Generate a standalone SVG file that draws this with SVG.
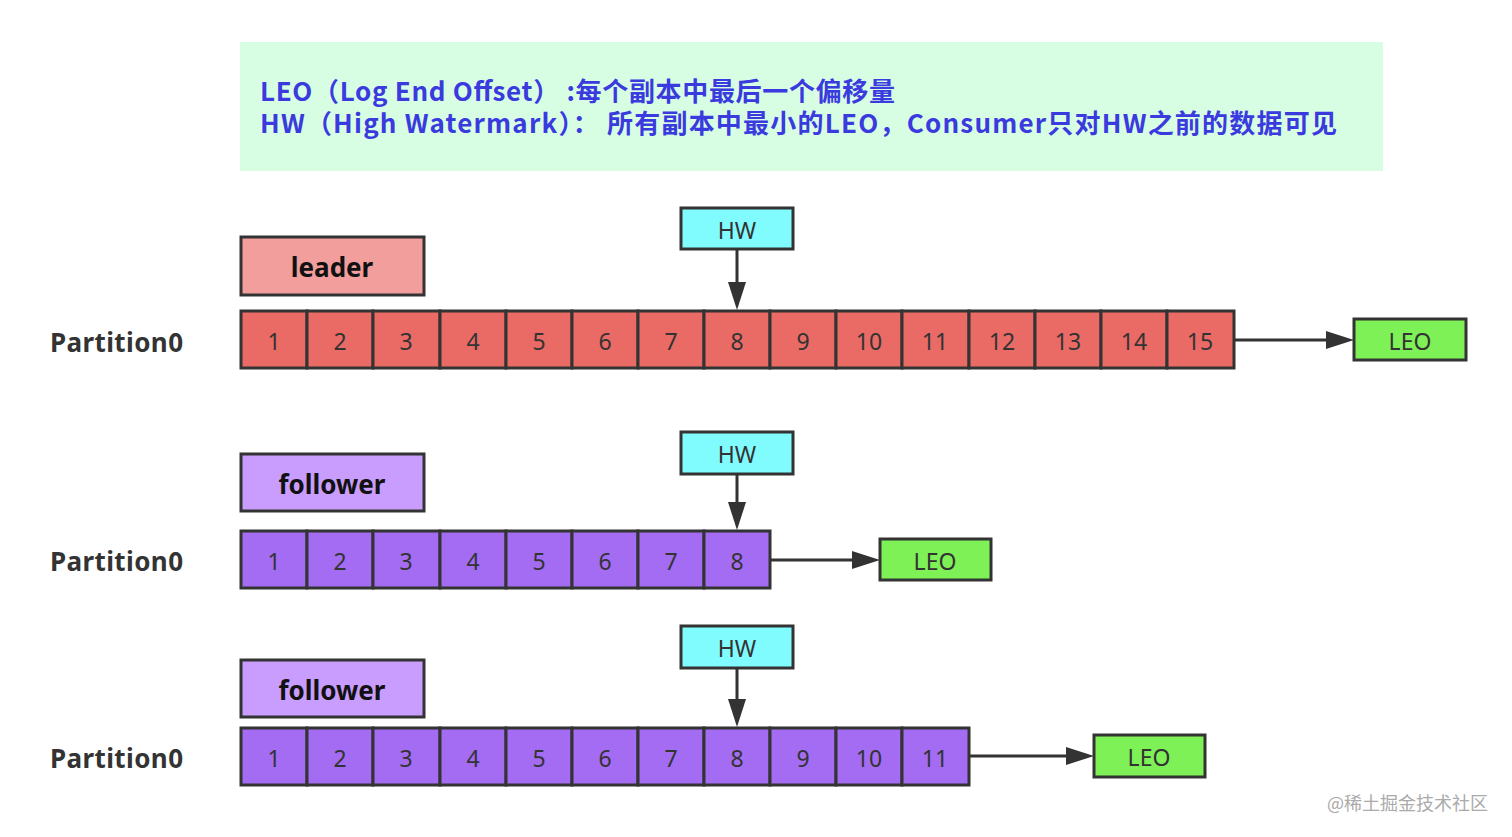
<svg xmlns="http://www.w3.org/2000/svg" width="1512" height="837" viewBox="0 0 1512 837">
<style>
.bd{stroke:#333;stroke-width:3}
.cl{fill:#ea6b66}
.cp{fill:#a36cf3}
.num{font-family:"Noto Sans","Open Sans",sans-serif;font-size:23px;fill:#333;text-anchor:middle;dominant-baseline:central}
.lbl{font-family:"Noto Sans","Open Sans",sans-serif;font-size:26px;font-weight:bold;fill:#111;text-anchor:middle;dominant-baseline:central}
.part{font-family:"Noto Sans","Open Sans",sans-serif;font-size:26px;font-weight:bold;fill:#333;dominant-baseline:central}
.hw{fill:#80fcff}
.leo{fill:#7ef157}
.ln{stroke:#333;stroke-width:3;fill:none}
.hdr{font-family:"Noto Sans CJK SC","Noto Sans",sans-serif;font-size:26px;font-weight:bold;fill:#3a3adf}
</style>
<rect width="1512" height="837" fill="#fff"/>
<g id="header">
<rect x="240" y="42" width="1143" height="129" fill="#d7fde3"/>
<text class="hdr" x="260" y="101" textLength="635" lengthAdjust="spacing">LEO（Log End Offset） :每个副本中最后一个偏移量</text>
<text class="hdr" x="260" y="133" textLength="1077" lengthAdjust="spacing">HW（High Watermark）： 所有副本中最小的LEO，Consumer只对HW之前的数据可见</text>
</g>
<g id="leader-label"><rect class="bd" x="241" y="237" width="183" height="58" fill="#f19e9c"/><text class="lbl" x="332" y="267">leader</text></g>
<g id="part1-label"><text class="part" x="50" y="342" textLength="133" lengthAdjust="spacing">Partition0</text></g>
<g id="leader-row">
<rect class="bd cl" x="241" y="311" width="66" height="57"/><text class="num" x="274" y="341">1</text>
<rect class="bd cl" x="307" y="311" width="66" height="57"/><text class="num" x="340" y="341">2</text>
<rect class="bd cl" x="373" y="311" width="67" height="57"/><text class="num" x="406" y="341">3</text>
<rect class="bd cl" x="440" y="311" width="66" height="57"/><text class="num" x="473" y="341">4</text>
<rect class="bd cl" x="506" y="311" width="66" height="57"/><text class="num" x="539" y="341">5</text>
<rect class="bd cl" x="572" y="311" width="66" height="57"/><text class="num" x="605" y="341">6</text>
<rect class="bd cl" x="638" y="311" width="66" height="57"/><text class="num" x="671" y="341">7</text>
<rect class="bd cl" x="704" y="311" width="66" height="57"/><text class="num" x="737" y="341">8</text>
<rect class="bd cl" x="770" y="311" width="66" height="57"/><text class="num" x="803" y="341">9</text>
<rect class="bd cl" x="836" y="311" width="66" height="57"/><text class="num" x="869" y="341">10</text>
<rect class="bd cl" x="902" y="311" width="67" height="57"/><text class="num" x="935" y="341">11</text>
<rect class="bd cl" x="969" y="311" width="66" height="57"/><text class="num" x="1002" y="341">12</text>
<rect class="bd cl" x="1035" y="311" width="66" height="57"/><text class="num" x="1068" y="341">13</text>
<rect class="bd cl" x="1101" y="311" width="66" height="57"/><text class="num" x="1134" y="341">14</text>
<rect class="bd cl" x="1167" y="311" width="67" height="57"/><text class="num" x="1200" y="341">15</text>
</g>
<g id="hw1"><rect class="bd hw" x="681" y="208" width="112" height="41"/><text class="num" x="737" y="230">HW</text></g>
<g id="leo1"><rect class="bd leo" x="1354" y="319" width="112" height="41"/><text class="num" x="1410" y="341">LEO</text></g>

<g id="follower1-label"><rect class="bd" x="241" y="454" width="183" height="57" fill="#c99dfd"/><text class="lbl" x="332" y="484">follower</text></g>
<g id="part2-label"><text class="part" x="50" y="561" textLength="133" lengthAdjust="spacing">Partition0</text></g>
<g id="follower1-row">
<rect class="bd cp" x="241" y="531" width="66" height="57"/><text class="num" x="274" y="561">1</text>
<rect class="bd cp" x="307" y="531" width="66" height="57"/><text class="num" x="340" y="561">2</text>
<rect class="bd cp" x="373" y="531" width="67" height="57"/><text class="num" x="406" y="561">3</text>
<rect class="bd cp" x="440" y="531" width="66" height="57"/><text class="num" x="473" y="561">4</text>
<rect class="bd cp" x="506" y="531" width="66" height="57"/><text class="num" x="539" y="561">5</text>
<rect class="bd cp" x="572" y="531" width="66" height="57"/><text class="num" x="605" y="561">6</text>
<rect class="bd cp" x="638" y="531" width="66" height="57"/><text class="num" x="671" y="561">7</text>
<rect class="bd cp" x="704" y="531" width="66" height="57"/><text class="num" x="737" y="561">8</text>
</g>
<g id="hw2"><rect class="bd hw" x="681" y="432" width="112" height="42"/><text class="num" x="737" y="454">HW</text></g>
<g id="leo2"><rect class="bd leo" x="880" y="539" width="111" height="41"/><text class="num" x="935" y="561">LEO</text></g>

<g id="follower2-label"><rect class="bd" x="241" y="660" width="183" height="57" fill="#c99dfd"/><text class="lbl" x="332" y="690">follower</text></g>
<g id="part3-label"><text class="part" x="50" y="758" textLength="133" lengthAdjust="spacing">Partition0</text></g>
<g id="follower2-row">
<rect class="bd cp" x="241" y="728" width="66" height="57"/><text class="num" x="274" y="758">1</text>
<rect class="bd cp" x="307" y="728" width="66" height="57"/><text class="num" x="340" y="758">2</text>
<rect class="bd cp" x="373" y="728" width="67" height="57"/><text class="num" x="406" y="758">3</text>
<rect class="bd cp" x="440" y="728" width="66" height="57"/><text class="num" x="473" y="758">4</text>
<rect class="bd cp" x="506" y="728" width="66" height="57"/><text class="num" x="539" y="758">5</text>
<rect class="bd cp" x="572" y="728" width="66" height="57"/><text class="num" x="605" y="758">6</text>
<rect class="bd cp" x="638" y="728" width="66" height="57"/><text class="num" x="671" y="758">7</text>
<rect class="bd cp" x="704" y="728" width="66" height="57"/><text class="num" x="737" y="758">8</text>
<rect class="bd cp" x="770" y="728" width="66" height="57"/><text class="num" x="803" y="758">9</text>
<rect class="bd cp" x="836" y="728" width="66" height="57"/><text class="num" x="869" y="758">10</text>
<rect class="bd cp" x="902" y="728" width="67" height="57"/><text class="num" x="935" y="758">11</text>
</g>
<g id="hw3"><rect class="bd hw" x="681" y="626" width="112" height="42"/><text class="num" x="737" y="648">HW</text></g>
<g id="leo3"><rect class="bd leo" x="1094" y="735" width="111" height="42"/><text class="num" x="1149" y="757">LEO</text></g>

<g id="connectors">
<path d="M737,249 V283" class="ln"/><path d="M728,282 L746,282 L737,310 z" fill="#333"/>
<path d="M1234,340 H1328" class="ln"/><path d="M1326,331 L1354,340 L1326,349 z" fill="#333"/>
<path d="M737,474 V503" class="ln"/><path d="M728,502 L746,502 L737,530 z" fill="#333"/>
<path d="M770,560 H854" class="ln"/><path d="M852,551 L880,560 L852,569 z" fill="#333"/>
<path d="M737,668 V700" class="ln"/><path d="M728,699 L746,699 L737,727 z" fill="#333"/>
<path d="M969,756 H1068" class="ln"/><path d="M1066,747 L1094,756 L1066,765 z" fill="#333"/>
</g>
<text x="1488" y="810" text-anchor="end" font-family="Noto Sans CJK SC,sans-serif" font-size="18" fill="#aaa">@稀土掘金技术社区</text>
</svg>
